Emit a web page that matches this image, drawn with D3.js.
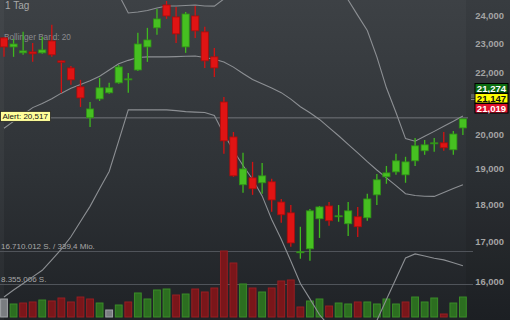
<!DOCTYPE html>
<html><head><meta charset="utf-8">
<script src="https://cdn.jsdelivr.net/npm/d3@7"></script>
<style>html,body{margin:0;padding:0;background:#2c2f33;overflow:hidden}</style>
</head><body><svg id="c" width="510" height="320"></svg>
<script>
// ---- data ----
const opens  = [23176,22860,22654,22688,22654,23069,22380,22140,21511,20518,21118,21315,21643,21757,22071,22860,23534,24370,23928,22860,23964,23391,22517,21020,19929,18528,18725,18584,18612,18047,17752,16717,16805,17592,17939,17659,17459,17646,17619,18245,18754,18895,18810,19216,19513,19736,19751,19543,20205];
const highs  = [23212,23140,23391,22997,23212,23642,22390,22209,21741,21020,21806,21643,22243,21970,23355,23534,24222,24518,24296,24111,24333,23570,22826,21184,20080,19454,19186,19156,18697,18132,17966,17379,17859,17939,18047,17966,18047,17912,18273,18838,19067,19424,19335,19899,19840,19899,20080,20112,20490];
const lows   = [22517,22517,22586,22346,22620,22517,21315,21577,20862,20237,21053,21282,21610,21315,22037,22346,23284,23857,22997,22654,23176,22140,21839,19424,18754,18302,18245,18273,17779,17486,16855,16553,16503,17086,17406,17512,17139,17112,17539,17966,18556,18810,18584,19067,19394,19483,19513,19394,19988];
const closes = [22860,22963,22723,22620,22757,22586,22330,21741,21151,20799,21479,21479,22174,21774,22963,23105,23857,23964,23319,24037,23427,22380,22140,19810,18782,18980,18415,18782,18104,17699,16956,16729,17806,17912,17539,17672,17806,17379,18132,18669,18867,19216,19186,19661,19691,19751,19602,20018,20487];
// volume in millions of shares
const volumes = [4.56,3.29,3.54,3.80,4.30,4.05,4.81,3.80,5.06,4.56,3.54,1.77,3.04,3.80,6.08,4.56,6.84,7.09,5.57,5.82,7.09,6.33,7.34,16.71,13.67,8.36,7.34,6.33,7.34,9.11,9.37,2.53,4.05,4.56,2.78,3.54,3.29,3.80,3.80,3.29,4.56,3.29,3.80,5.06,3.80,4.81,0.76,3.54,5.06];
const bbUpper  = [24770,25030,25310,25579,25678,25718,25813,25817,25662,25502,25307,25233,24758,24074,24111,24167,24259,24333,24333,24352,24370,24333,24326,24592,24812,24829,24816,25003,25364,25591,25729,25798,25786,25738,25486,25058,24555,23986,23438,22517,21479,20684,19878,19798,19947,20099,20256,20409,20574];
const bbMiddle = [20193,20406,20624,20840,20971,21122,21305,21466,21590,21715,21862,22071,22284,22397,22493,22517,22517,22517,22524,22538,22548,22497,22435,22342,22167,21954,21751,21610,21469,21321,21111,20868,20678,20468,20215,19965,19706,19450,19192,18949,18725,18502,18278,18227,18205,18202,18313,18423,18528];
const bbLower  = [15616,15782,15938,16101,16264,16526,16797,17115,17518,17928,18417,18909,19810,20768,20768,20768,20768,20768,20746,20712,20696,20684,20593,20021,19522,19079,18686,18217,17574,17051,16493,15938,15570,15198,14944,14872,14848,14824,14896,15064,15554,16055,16571,16674,16621,16563,16523,16450,16377];
const priceTicks = [24000,23000,22000,20000,19000,18000,17000,16000];
const alertValue = 20517;
const quoteValues = [21274, 21147, 21019];
const volMax = 16.710012;
const volLines = [16.710012, 8.355006];
const volLabels = ["16.710.012 S. / 339,4 Mio.", "8.355.006 S."];
const titleText = "1 Tag";
const bbText = "Bollinger Band: 20";

// ---- drawing ----
const W = 510, H = 320, n = closes.length;
const svg = d3.select("#c");
const font = "'Liberation Sans', Arial, sans-serif";

const defs = svg.append("defs");
const g = defs.append("linearGradient").attr("id","bg").attr("x1",0).attr("y1",0).attr("x2",0).attr("y2",1);
g.append("stop").attr("offset","0%").attr("stop-color","#3d4145");
g.append("stop").attr("offset","55%").attr("stop-color","#2e3236");
g.append("stop").attr("offset","100%").attr("stop-color","#1f2226");
defs.append("clipPath").attr("id","plot").append("rect").attr("x",0).attr("y",0).attr("width",468).attr("height",H);

svg.append("rect").attr("width",W).attr("height",H).attr("fill","url(#bg)");
svg.append("rect").attr("x",466).attr("width",W-466).attr("height",H).attr("fill","rgba(0,0,0,0.07)");
svg.append("rect").attr("x",0).attr("width",4).attr("height",H).attr("fill","rgba(255,255,255,0.035)");

const x = d3.scaleLinear().domain([0, n-1]).range([4, 462.9]);
const y = d3.scaleLog().domain([16000, 24000]).range([281, 15]);
const yv = d3.scaleLinear().domain([0, volMax]).range([317, 251]);

const fmt = d3.format(",.0f");

// volume reference lines
svg.append("g").selectAll("line").data(volLines).join("line")
  .attr("x1",0).attr("x2",473).attr("y1",d=>Math.round(yv(d))+0.5).attr("y2",d=>Math.round(yv(d))+0.5)
  .attr("stroke","#50545a").attr("stroke-width",1);
svg.append("g").selectAll("text").data(volLabels).join("text")
  .attr("x",1).attr("y",(d,i)=>yv(volLines[i])-2.5)
  .attr("font-family",font).attr("font-size",8).attr("fill","#a8a8a8").text(d=>d);

// labels behind marks
svg.append("text").attr("x",5).attr("y",9).attr("font-family",font).attr("font-size",10).attr("fill","#a8a8a8").text(titleText);
svg.append("text").attr("x",4).attr("y",40).attr("font-family",font).attr("font-size",8.2).attr("fill","#8a8c8f").text(bbText);

// alert line
svg.append("line").attr("x1",0).attr("x2",468).attr("y1",y(alertValue)).attr("y2",y(alertValue))
  .attr("stroke","#72767a").attr("stroke-width",1);

// volume bars
const volDir = closes.map((c,i)=> i===0 ? 0 : (c>closes[i-1]?1:(c<closes[i-1]?-1:0)));
const vFill = {1:"#2c6e20", "-1":"#7a161a", 0:"#7a7d81"};
const vStroke = {1:"#3a8c28", "-1":"#981e22", 0:"#a2a5a8"};
svg.append("g").selectAll("rect").data(volumes).join("rect")
  .attr("x",(d,i)=>x(i)-3.4).attr("width",6.8)
  .attr("y",d=>yv(d)).attr("height",d=>yv(0)-yv(d))
  .attr("fill",(d,i)=>vFill[volDir[i]]).attr("stroke",(d,i)=>vStroke[volDir[i]]).attr("stroke-width",1);

// bollinger bands
const line = d3.line().x((d,i)=>x(i)).y(d=>y(d));
const bands = svg.append("g").attr("clip-path","url(#plot)");
[bbUpper, bbMiddle, bbLower].forEach(arr=>{
  bands.append("path").attr("d",line(arr)).attr("fill","none").attr("stroke","#8c8f93").attr("stroke-width",1.1);
});

// candles
const cg = svg.append("g");
const up = i => closes[i] >= opens[i];
cg.selectAll("line").data(closes).join("line")
  .attr("x1",(d,i)=>x(i)).attr("x2",(d,i)=>x(i))
  .attr("y1",(d,i)=>y(highs[i])).attr("y2",(d,i)=>y(lows[i]))
  .attr("stroke",(d,i)=>up(i)?"#3fb81e":"#d41212").attr("stroke-width",1.3);
cg.selectAll("rect").data(closes).join("rect")
  .attr("x",(d,i)=>x(i)-3.6).attr("width",7.2)
  .attr("y",(d,i)=>y(Math.max(opens[i],closes[i])))
  .attr("height",(d,i)=>Math.max(1, Math.abs(y(opens[i])-y(closes[i]))))
  .attr("fill",(d,i)=>up(i)?"#46c021":"#e01414")
  .attr("stroke",(d,i)=>up(i)?"#2f8f17":"#a80d0d").attr("stroke-width",0.8);

// price axis
const ax = svg.append("g").attr("transform","translate(504,0)")
  .call(d3.axisRight(y).tickValues(priceTicks).tickFormat(fmt).tickSize(0));
ax.select(".domain").remove();
ax.selectAll("text").attr("x",0).attr("text-anchor","end").attr("dy","0.35em")
  .attr("font-family",font).attr("font-size",9.4).attr("font-weight","bold").attr("fill","#a4a4a4");

// alert label
const ay = y(alertValue);
svg.append("rect").attr("x",0.5).attr("y",ay-6.5).attr("width",50).attr("height",10)
  .attr("fill","#ffff9a").attr("stroke","#222").attr("stroke-width",0.8);
svg.append("text").attr("x",2.5).attr("y",ay+1.5).attr("font-family",font).attr("font-size",8)
  .attr("fill","#111").text("Alert: " + fmt(alertValue));

// quote boxes
const qy = y(quoteValues[1]);
const qFill = ["#0d6e12","#ffff00","#e0102a"];
const qText = ["#ffffff","#111111","#ffffff"];
[-3,-1,1.5].forEach(o=>{
  svg.append("line").attr("x1",471).attr("x2",475).attr("y1",qy+o).attr("y2",qy+o).attr("stroke","#9a9a9a").attr("stroke-width",0.8);
});
const qb = svg.append("g").selectAll("g").data(quoteValues).join("g")
  .attr("transform",(d,i)=>`translate(475,${qy-4.5+(i-1)*10})`);
qb.append("rect").attr("width",33).attr("height",9.5)
  .attr("fill",(d,i)=>qFill[i]).attr("stroke","#000").attr("stroke-width",1);
qb.append("text").attr("x",16.5).attr("y",8).attr("text-anchor","middle")
  .attr("font-family",font).attr("font-size",9.6).attr("font-weight","bold")
  .attr("fill",(d,i)=>qText[i]).text(d=>fmt(d));
</script></body></html>
